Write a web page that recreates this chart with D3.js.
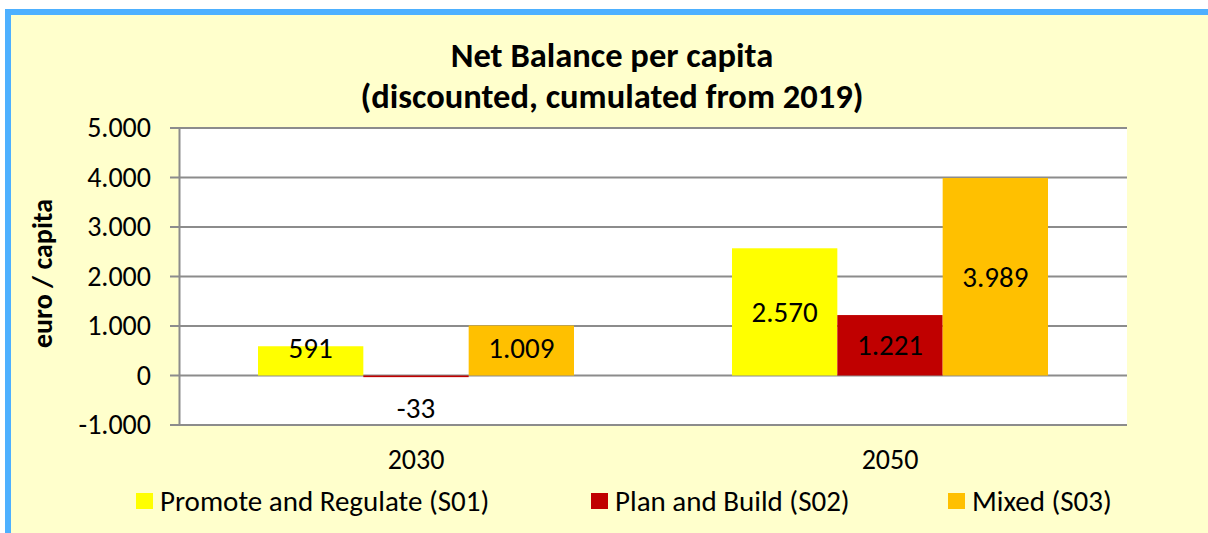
<!DOCTYPE html>
<html>
<head>
<meta charset="utf-8">
<script src="https://cdn.jsdelivr.net/npm/d3@7"></script>
<style>
  body { margin: 0; background: #fff; }
  svg { display: block; font-family: Carlito, Lato, "Open Sans", sans-serif; }
  .grid line { stroke: #8c8c8c; stroke-width: 2; }
</style>
</head>
<body>
<svg id="chart"></svg>
<script>
// data
const categories = ["2030", "2050"];
const seriesNames = ["Promote and Regulate (S01)", "Plan and Build (S02)", "Mixed (S03)"];
const s01 = [591, 2570];
const s02 = [-33, 1221];
const s03 = [1009, 3989];
const yTicks = [-1000, 0, 1000, 2000, 3000, 4000, 5000];
const colors = ["#ffff00", "#c00000", "#ffc000"];

const width = 1208, height = 533;
const plot = { left: 179, right: 1127, top: 128, bottom: 425 };

const svg = d3.select("#chart").attr("width", width).attr("height", height);

// frame
svg.append("rect")
  .attr("x", 8).attr("y", 12)
  .attr("width", width).attr("height", height)
  .attr("fill", "#ffffcc")
  .attr("stroke", "#4db0ff")
  .attr("stroke-width", 6);

// plot background
svg.append("rect")
  .attr("x", plot.left).attr("y", plot.top)
  .attr("width", plot.right - plot.left).attr("height", plot.bottom - plot.top)
  .attr("fill", "#fff");

const x0 = d3.scaleBand().domain(categories).range([plot.left, plot.right]).paddingInner(0);
// gap of 1.5 bar widths per category, split on both sides
const x1 = d3.scaleBand().domain(d3.range(3)).range([0, x0.bandwidth()])
  .paddingInner(0).paddingOuter(0.75);

const y = d3.scaleLinear().domain([-1000, 5000]).range([plot.bottom, plot.top]);

const fmt = v => d3.format(",")(v).replace(/,/g, ".").replace("\u2212", "-");

// grid
svg.append("g").attr("class", "grid")
  .selectAll("line").data(yTicks).join("line")
  .attr("x1", plot.left - 9).attr("x2", plot.right)
  .attr("y1", d => y(d)).attr("y2", d => y(d));

// y axis
const axisY = d3.axisLeft(y).tickValues(yTicks).tickSize(0).tickPadding(28).tickFormat(fmt);
const gy = svg.append("g").attr("transform", `translate(${plot.left},0)`).call(axisY)
  .attr("font-family", null).attr("font-size", null);
gy.select(".domain").attr("stroke", "#8c8c8c").attr("stroke-width", 2);
gy.selectAll("text").style("font-size", "28px").attr("fill", "#000");

// x axis labels
const axisX = d3.axisBottom(x0).tickSize(0).tickPadding(24);
const gx = svg.append("g").attr("transform", `translate(0,${plot.bottom})`).call(axisX)
  .attr("font-family", null).attr("font-size", null);
gx.select(".domain").remove();
gx.selectAll("text").style("font-size", "28px").attr("fill", "#000");

// bars
const series = [s01, s02, s03];
const rows = [];
categories.forEach((c, i) => series.forEach((s, k) => rows.push({ cat: c, k: k, v: s[i] })));

svg.append("g").selectAll("rect").data(rows).join("rect")
  .attr("x", d => x0(d.cat) + x1(d.k))
  .attr("width", x1.bandwidth())
  .attr("y", d => y(Math.max(0, d.v)))
  .attr("height", d => Math.abs(y(d.v) - y(0)))
  .attr("fill", d => colors[d.k]);

// value labels
svg.append("g").selectAll("text").data(rows).join("text")
  .attr("x", d => x0(d.cat) + x1(d.k) + x1.bandwidth() / 2)
  .attr("y", d => d.v < 0 ? y(d.v) + 31 : Math.min((y(d.v) + y(0)) / 2, y(0) - 28))
  .attr("text-anchor", "middle")
  .attr("dominant-baseline", "central")
  .style("font-size", "29px")
  .text(d => fmt(d.v));

// title
svg.append("text").attr("x", 612).attr("y", 67)
  .attr("text-anchor", "middle").style("font-size", "34.5px").style("font-weight", "bold")
  .text("Net Balance per capita");
svg.append("text").attr("x", 612).attr("y", 108)
  .attr("text-anchor", "middle").style("font-size", "34.5px").style("font-weight", "bold")
  .text("(discounted, cumulated from 2019)");

// y title
svg.append("text")
  .attr("transform", `translate(52,${(plot.top + plot.bottom) / 2 - 3}) rotate(-90)`)
  .attr("text-anchor", "middle").style("font-size", "28px").style("font-weight", "bold")
  .text("euro / capita");

// legend
const legendX = [136, 591, 948];
const lg = svg.append("g").selectAll("g").data(seriesNames).join("g")
  .attr("transform", (d, i) => `translate(${legendX[i]},501)`);
lg.append("rect").attr("x", 0).attr("y", -8)
  .attr("width", 17).attr("height", 16)
  .attr("fill", (d, i) => colors[i]);
lg.append("text").attr("x", 24).attr("y", 0)
  .attr("dominant-baseline", "central")
  .style("font-size", "29px").text(d => d);
</script>
</body>
</html>
